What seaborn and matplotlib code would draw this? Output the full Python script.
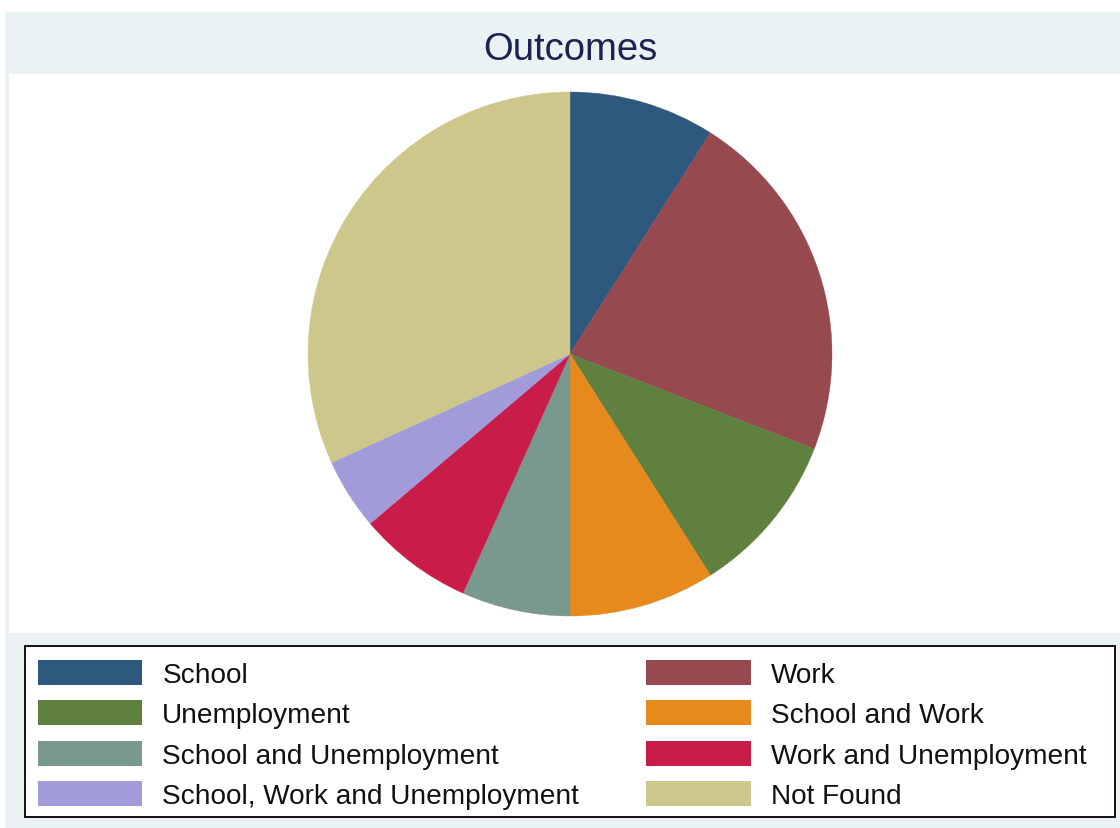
import matplotlib
matplotlib.use("Agg")
import matplotlib.pyplot as plt
from matplotlib.patches import Rectangle, Patch
import seaborn as sns

# Outcome categories and their shares (%)
categories = ["School", "Work", "Unemployment", "School and Work",
              "School and Unemployment", "Work and Unemployment",
              "School, Work and Unemployment", "Not Found"]
shares = [9.0, 21.9, 10.1, 9.0, 6.7, 7.1, 4.4, 31.8]
colors = ["#2E587D", "#964A4F", "#60803F", "#E78A1E",
          "#7A998E", "#CA1C48", "#A29BDA", "#CEC78B"]
title = "Outcomes"

sns.set_theme(style="white")
plt.rcParams["font.family"] = ["Liberation Sans", "DejaVu Sans"]

W, H = 1120, 829
fig = plt.figure(figsize=(W / 100, H / 100), dpi=100, facecolor="white")


def fig_rect(x0, y0, x1, y1, **kw):
    """Rectangle given in pixel coordinates measured from the top-left."""
    r = Rectangle((x0 / W, 1 - y1 / H), (x1 - x0) / W, (y1 - y0) / H,
                  transform=fig.transFigure, **kw)
    fig.patches.append(r)
    return r


# graph region, plot region and legend box (behind the pie)
fig_rect(5, 13, W, H, facecolor="#EAF2F3", edgecolor="none", zorder=-3)
fig_rect(9, 75, W, 634, facecolor="white", edgecolor="none", zorder=-2)
fig_rect(25, 647, 1115, 818, facecolor="white", edgecolor="black",
         linewidth=1.3, zorder=-1)

fig.text(570 / W, 1 - 50 / H, title, ha="center", va="center",
         fontsize=27.5, color="#1C2451")

# pie axes: centre (570, 355), radius 262 px
cx, cy, r = 570, 355, 262
ax = fig.add_axes([(cx - r) / W, 1 - (cy + r) / H, 2 * r / W, 2 * r / H])
ax.set_facecolor("none")
wedges, _ = ax.pie(shares, colors=colors, startangle=90, counterclock=False,
                   radius=1.0, wedgeprops=dict(linewidth=0))
for w, c in zip(wedges, colors):
    w.set_edgecolor(c)
    w.set_linewidth(0.3)
ax.set_xlim(-1, 1)
ax.set_ylim(-1, 1)
ax.set_aspect("equal")
ax.axis("off")

# legend laid out row-wise in two columns
handles = [Patch(facecolor=c, edgecolor="none") for c in colors]
order = [0, 2, 4, 6, 1, 3, 5, 7]
fs = 20.2
leg = fig.legend([handles[i] for i in order], [categories[i] for i in order],
                 ncol=2, loc="upper left",
                 bbox_to_anchor=(26 / W, 1 - 649 / H),
                 frameon=False, fontsize=fs, labelcolor="#111111",
                 handlelength=104 / 28, handleheight=1.0,
                 handletextpad=20 / 28, columnspacing=67 / 28,
                 labelspacing=0.43, borderpad=0.43, borderaxespad=0)
leg.set_zorder(2)

fig.savefig("out.png", dpi=100, facecolor="white")
